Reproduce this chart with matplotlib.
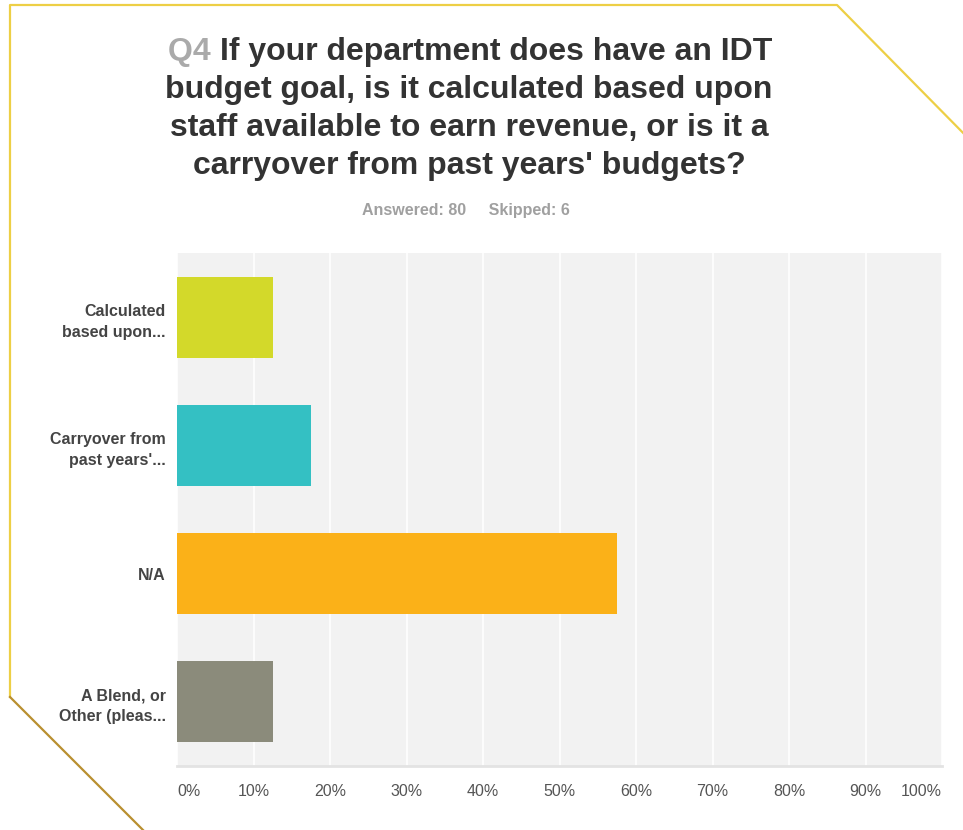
import numpy as np
import matplotlib
matplotlib.use("Agg")
import matplotlib.pyplot as plt
from matplotlib.lines import Line2D

plt.rcParams['font.family'] = ['Liberation Sans', 'DejaVu Sans']

# survey answers (Q4), 80 answered
categories = ["Calculated\nbased upon...", "Carryover from\npast years'...", "N/A",
              "A Blend, or\nOther (pleas..."]
counts = [10, 14, 46, 10]
answered = 80
skipped = 6
percents = [100.0 * c / answered for c in counts]
bar_colors = ["#d3d92a", "#34c0c3", "#fbb118", "#8b8b7b"]
tick_vals = list(range(0, 101, 10))
tick_labels = [f"{v}%" for v in tick_vals]

W, H = 963, 830
fig = plt.figure(figsize=(W / 100, H / 100), dpi=100)
fig.patch.set_facecolor("white")


def fx(px):
    return px / W


def fy(py):
    return 1 - py / H


# gold frame with clipped corners
fig.add_artist(Line2D([fx(10), fx(10), fx(837), fx(975)],
                      [fy(697), fy(5), fy(5), fy(145)],
                      color="#edcf45", lw=1.6, transform=fig.transFigure))
fig.add_artist(Line2D([fx(10), fx(143)], [fy(697), fy(830)],
                      color="#b98f30", lw=1.6, transform=fig.transFigure))

# bar chart
ax = fig.add_axes([fx(177), fy(766), fx(942) - fx(177), fy(253) - fy(766)])
ax.set_facecolor("#f2f2f2")
y = np.arange(len(categories))
ax.barh(y, percents, height=0.63, color=bar_colors, zorder=3)
ax.set_xlim(0, 100)
ax.set_ylim(len(categories) - 0.5, -0.5)
ax.set_xticks(tick_vals)
ax.xaxis.grid(True, color="white", lw=1.2, zorder=1)
ax.set_axisbelow(True)
for s in ax.spines.values():
    s.set_visible(False)
ax.spines["bottom"].set_visible(True)
ax.spines["bottom"].set_color("#e3e3e3")
ax.spines["bottom"].set_linewidth(2)
ax.tick_params(length=0)
ax.set_xticklabels(tick_labels, color="#555555", fontsize=11.5)
ax.tick_params(axis="x", pad=13)
labs = ax.get_xticklabels()
labs[0].set_ha("left")
labs[-1].set_ha("right")
ax.set_yticks(y)
ax.set_yticklabels(categories, color="#444444", fontsize=11.5, fontweight="bold",
                   ha="right", linespacing=1.5)
ax.tick_params(axis="y", pad=8)

# title
dark = "#333333"
t1 = fig.text(fx(168), fy(52), "Q4 ", color="#aaaaaa", fontsize=23,
              fontweight="bold", ha="left", va="center")
ax.annotate("If your department does have an IDT", xy=(1, 0.5), xycoords=t1,
            color=dark, fontsize=23, fontweight="bold", ha="left", va="center",
            annotation_clip=False)
for i, line in enumerate(["budget goal, is it calculated based upon",
                          "staff available to earn revenue, or is it a",
                          "carryover from past years' budgets?"]):
    fig.text(fx(469), fy(90 + 38 * i), line, color=dark, fontsize=23,
             fontweight="bold", ha="center", va="center")

fig.text(fx(466), fy(211), f"Answered: {answered}     Skipped: {skipped}",
         color="#a0a0a0", fontsize=11.5, fontweight="bold", ha="center", va="center")

fig.savefig("out.png", dpi=100, facecolor="white")
